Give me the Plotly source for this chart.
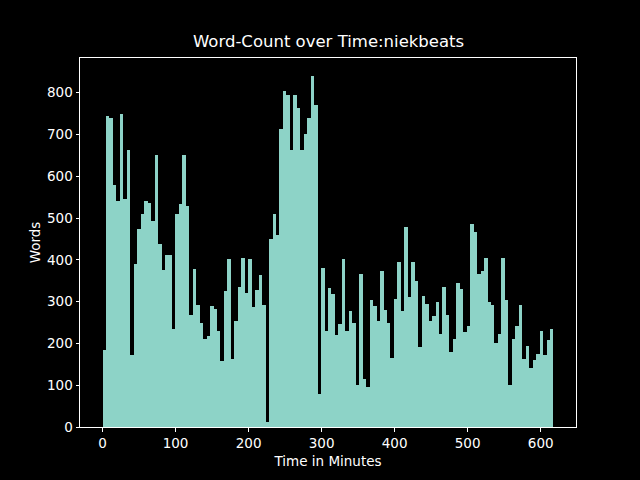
import plotly.graph_objects as go

words = [184, 745, 740, 580, 542, 750, 545, 662, 172, 389,
         475, 509, 540, 535, 494, 650, 439, 375, 411, 411,
         234, 509, 533, 650, 530, 268, 377, 291, 248, 210,
         217, 289, 282, 229, 158, 325, 401, 162, 253, 334,
         404, 320, 401, 287, 327, 363, 291, 12, 449, 509,
         459, 714, 803, 795, 664, 795, 764, 662, 700, 740,
         841, 771, 79, 380, 229, 332, 318, 220, 246, 401,
         229, 277, 248, 100, 365, 115, 96, 303, 289, 253,
         373, 279, 248, 165, 306, 394, 277, 478, 311, 394,
         349, 191, 313, 294, 253, 265, 299, 222, 334, 268,
         179, 210, 344, 330, 227, 241, 485, 466, 365, 373,
         404, 299, 291, 201, 222, 404, 303, 100, 210, 241,
         291, 162, 193, 141, 160, 174, 229, 172, 208, 234]

bin_minutes = 4.75
x_ticks = [0, 100, 200, 300, 400, 500, 600]
y_ticks = [0, 100, 200, 300, 400, 500, 600, 700, 800]

centers = [(i + 0.5) * bin_minutes for i in range(len(words))]
x_end = len(words) * bin_minutes
xpad = 0.05 * x_end

font = "DejaVu Sans"
fig = go.Figure(go.Bar(
    x=centers, y=words, width=[bin_minutes] * len(words),
    marker=dict(color="#8dd3c7", line=dict(width=0)),
))

axis_common = dict(
    showgrid=False, zeroline=False, showline=True, linecolor="white",
    linewidth=1, mirror=True, ticks="outside", ticklen=3.5, tickwidth=1,
    tickcolor="white", automargin=False,
    tickfont=dict(family=font, size=13.5, color="white"),
)

fig.update_layout(
    width=640, height=480,
    paper_bgcolor="black", plot_bgcolor="black",
    margin=dict(l=80, r=64, t=58, b=53),
    bargap=0, showlegend=False,
    font=dict(family=font, color="white"),
    xaxis=dict(range=[-xpad, x_end + xpad], tickvals=x_ticks,
               title=dict(text="Time in Minutes", standoff=6,
                          font=dict(family=font, size=13.5, color="white")),
               **axis_common),
    yaxis=dict(range=[0, max(words) * 1.05], tickvals=y_ticks,
               title=dict(text="Words", standoff=3,
                          font=dict(family=font, size=13.5, color="white")),
               **axis_common),
    annotations=[dict(text="Word-Count over Time:niekbeats", x=0.5, y=1,
                      xref="paper", yref="paper", xanchor="center",
                      yanchor="bottom", yshift=5, showarrow=False,
                      font=dict(family=font, size=16.5, color="white"))],
)

fig.write_html("out.html",
               config={"displayModeBar": False},
               post_script="document.body.style.margin='0';"
                           "document.body.style.background='black';")
